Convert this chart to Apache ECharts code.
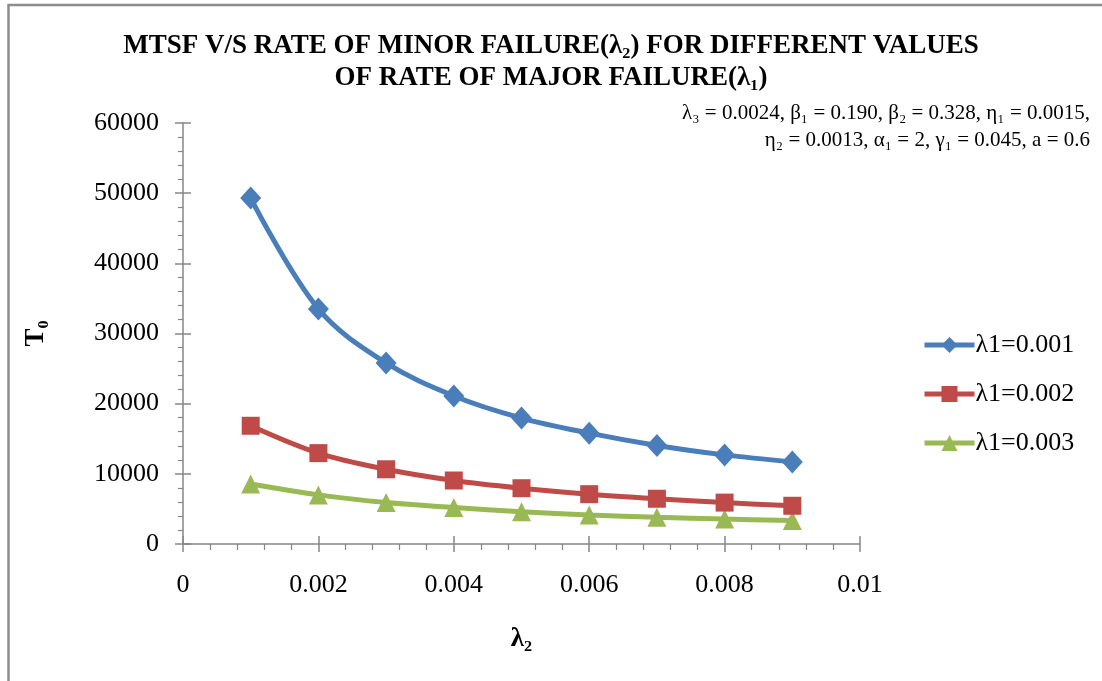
<!DOCTYPE html>
<html>
<head>
<meta charset="utf-8">
<script src="https://cdn.jsdelivr.net/npm/echarts@6/dist/echarts.min.js"></script>
<style>
html,body{margin:0;padding:0;background:#fff;}
#chart{width:1102px;height:681px;}
</style>
</head>
<body>
<div id="chart"></div>
<script>
const lambda2 = [0.001, 0.002, 0.003, 0.004, 0.005, 0.006, 0.007, 0.008, 0.009];
const seriesNames = ['λ1=0.001', 'λ1=0.002', 'λ1=0.003'];
const t0_l1_001 = [49300, 33500, 25800, 21100, 17950, 15800, 14050, 12700, 11700];
const t0_l1_002 = [16850, 12950, 10650, 9050, 7950, 7100, 6450, 5900, 5450];
const t0_l1_003 = [8550, 7000, 5900, 5200, 4600, 4150, 3800, 3550, 3350];
const titleLines = ['MTSF V/S RATE OF MINOR FAILURE(λ₂) FOR DIFFERENT VALUES', 'OF RATE OF MAJOR FAILURE(λ₁)'];
const noteLines = ['λ₃ = 0.0024, β₁ = 0.190, β₂ = 0.328, η₁ = 0.0015,', 'η₂ = 0.0013, α₁ = 2, γ₁ = 0.045, a = 0.6'];

const serif = '"Liberation Serif", "Times New Roman", "DejaVu Serif", serif';
const colors = ['#4A7EBB', '#BE4B48', '#98B954'];
const symbols = ['diamond', 'rect', 'triangle'];
const symbolSizes = [[21, 23], 18, 19];
const allData = [t0_l1_001, t0_l1_002, t0_l1_003];

const chart = echarts.init(document.getElementById('chart'), null, {renderer: 'canvas'});
const axisGray = '#868686';

const grid = {left: 183, top: 123, width: 677, height: 421};

const option = {
  backgroundColor: '#fff',
  animation: false,
  title: {
    text: titleLines.join('\n'),
    left: 'center',
    top: 25,
    textStyle: {fontFamily: serif, fontWeight: 'bold', fontSize: 27, color: '#000', lineHeight: 32}
  },
  graphic: [
    {type: 'rect', shape: {x: 8.5, y: 5, width: 1200, height: 800},
     style: {fill: 'none', stroke: '#8c8c8c', lineWidth: 2.5}, silent: true, z: 100},
    {type: 'text', x: 1090, y: 100,
     style: {text: noteLines.join('\n'), font: '21px ' + serif, fill: '#000', align: 'right', verticalAlign: 'top', lineHeight: 27}}
  ],
  legend: {
    orient: 'vertical',
    left: 917,
    top: 327,
    itemWidth: 50,
    itemHeight: 20,
    itemGap: 23,
    lineStyle: {width: 5},
    textStyle: {fontFamily: serif, fontSize: 26, color: '#000', padding: [0, 0, 0, -4]},
    data: seriesNames
  },
  grid: grid,
  xAxis: [
    {
      type: 'value', min: 0, max: 0.01, interval: 0.002,
      name: 'λ₂', nameLocation: 'middle', nameGap: 82,
      nameTextStyle: {fontFamily: serif, fontWeight: 'bold', fontSize: 27, color: '#000'},
      axisLine: {show: true, lineStyle: {color: axisGray, width: 1.5}},
      axisTick: {show: true, inside: false, length: 8, lineStyle: {color: axisGray, width: 1.5}},
      minorTick: {show: true, splitNumber: 5, length: 6, lineStyle: {color: axisGray, width: 1.2}},
      axisLabel: {fontFamily: serif, fontSize: 26, color: '#000', margin: 28},
      splitLine: {show: false}
    },
    {
      type: 'value', min: 0, max: 0.01, interval: 0.002, position: 'bottom',
      axisLine: {show: false},
      axisTick: {show: true, inside: true, length: 8, lineStyle: {color: axisGray, width: 1.5}},
      axisLabel: {show: false},
      splitLine: {show: false}
    }
  ],
  yAxis: [
    {
      type: 'value', min: 0, max: 60000, interval: 10000,
      name: 'T₀', nameLocation: 'middle', nameGap: 133, nameRotate: 90,
      nameTextStyle: {fontFamily: serif, fontWeight: 'bold', fontSize: 27, color: '#000'},
      axisLine: {show: true, lineStyle: {color: axisGray, width: 1.5}},
      axisTick: {show: true, inside: false, length: 8, lineStyle: {color: axisGray, width: 1.5}},
      minorTick: {show: true, splitNumber: 5, length: 5, lineStyle: {color: axisGray, width: 1.2}},
      axisLabel: {fontFamily: serif, fontSize: 26, color: '#000', margin: 24, formatter: v => String(v)},
      splitLine: {show: false}
    },
    {
      type: 'value', min: 0, max: 60000, interval: 10000, position: 'left',
      axisLine: {show: false},
      axisTick: {show: true, inside: true, length: 8, lineStyle: {color: axisGray, width: 1.5}},
      axisLabel: {show: false},
      splitLine: {show: false}
    }
  ],
  series: seriesNames.map((name, i) => ({
    name: name,
    type: 'line',
    smooth: 0.35,
    symbol: symbols[i],
    symbolSize: symbolSizes[i],
    showAllSymbol: true,
    lineStyle: {color: colors[i], width: 5},
    itemStyle: {color: colors[i]},
    data: lambda2.map((x, j) => [x, allData[i][j]]),
    z: 3 - i
  }))
};
chart.setOption(option);
</script>
</body>
</html>
